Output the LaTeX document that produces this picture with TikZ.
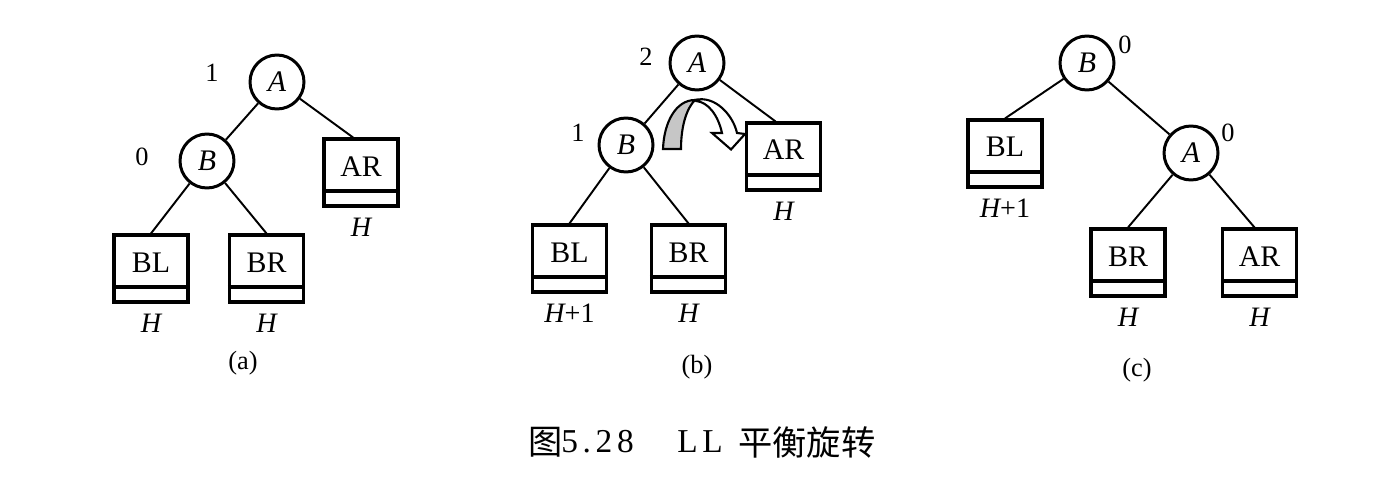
\documentclass[tikz,border=0pt]{standalone}
\usepackage{fontspec}
\setmainfont{Liberation Serif}
\newfontfamily\cjk{Noto Sans CJK SC}
\begin{document}
\begin{tikzpicture}[x=0.02cm,y=-0.02cm,
  every node/.style={inner sep=0pt},
  vtx/.style={circle, draw, line width=1.7pt, minimum size=1.08cm, font=\fontsize{17pt}{20pt}\selectfont\itshape},
  tbox/.style={rectangle, draw, line width=1.8pt, minimum width=1.48cm, text height=0.74cm, text depth=0.6cm, font=\fontsize{17pt}{20pt}\selectfont},
  sepline/.style={line width=2.3pt},
  edge/.style={line width=1.1pt},
  bfac/.style={font=\fontsize{15pt}{18pt}\selectfont},
  ht/.style={font=\fontsize{16pt}{19pt}\selectfont},
  sub/.style={font=\fontsize{15pt}{18pt}\selectfont},
  capl/.style={font=\fontsize{19pt}{22pt}\selectfont\addfontfeature{LetterSpace=14}, anchor=west},
  capc/.style={font=\fontsize{19.5pt}{22pt}\cjk, anchor=west},
  rot/.style={line width=1.2pt, line join=miter}
]
\useasboundingbox (0,0) rectangle (1388,483);

% ---------- (a) ----------
\node[vtx] (aA) at (277,82) {A};
\node[vtx] (aB) at (207,161) {B};
\node[tbox] (aAR) at (361,172.5) {AR};
\node[tbox] (aBL) at (151,268.5) {BL};
\node[tbox] (aBR) at (266.5,268.5) {BR};
\node[bfac] (a1) at (212,73) {1};
\node[bfac] (a0) at (142,157) {0};
\draw[edge] (aA) -- (aB);
\draw[edge] (aA) -- ([xshift=-0.16cm]aAR.north);
\draw[edge] (aB) -- (aBL.north);
\draw[edge] (aB) -- (aBR.north);
\node[ht] (aHAR) at ([yshift=-0.4cm]aAR.south) {\itshape H};
\node[ht] (aHBL) at ([yshift=-0.4cm]aBL.south) {\itshape H};
\node[ht] (aHBR) at ([yshift=-0.4cm]aBR.south) {\itshape H};
\node[sub] (alab) at (243,363) {(a)};

% ---------- (b) ----------
\node[vtx] (bA) at (697,63) {A};
\node[vtx] (bB) at (626,145) {B};
\node[tbox] (bAR) at (783.5,156.5) {AR};
\node[tbox] (bBL) at (569.5,258.5) {BL};
\node[tbox] (bBR) at (688.5,258.5) {BR};
\node[bfac] (b2) at (646,57) {2};
\node[bfac] (b1) at (578,133) {1};
\draw[edge] (bA) -- (bB);
\draw[edge] (bA) -- ([xshift=-0.16cm]bAR.north);
\draw[edge] (bB) -- (bBL.north);
\draw[edge] (bB) -- (bBR.north);
\node[ht] (bHAR) at ([yshift=-0.4cm]bAR.south) {\itshape H};
\node[ht] (bHBL) at ([yshift=-0.4cm]bBL.south) {{\itshape H}+1};
\node[ht] (bHBR) at ([yshift=-0.4cm]bBR.south) {\itshape H};
\node[sub] (blab) at (697,367) {(b)};
% rotation arrow
\filldraw[rot, fill=gray!45] (663,149) .. controls (664,122) and (676,100) .. (695,100)
   .. controls (687,108) and (681,125) .. (681,149) -- cycle;
\filldraw[rot, fill=white] (695,100) .. controls (715,95) and (733,115) .. (737,133)
   -- (745,134) -- (731,149.5) -- (712,133) -- (722,133)
   .. controls (718,115) and (708,102) .. (696,101) -- cycle;

% ---------- (c) ----------
\node[vtx] (cB) at (1087,63) {B};
\node[vtx] (cA) at (1191,153) {A};
\node[tbox] (cBL) at (1005,153.5) {BL};
\node[tbox] (cBR) at (1128,262.5) {BR};
\node[tbox] (cAR) at (1259.5,262.5) {AR};
\node[bfac] (c0a) at (1125,45) {0};
\node[bfac] (c0b) at (1228,133) {0};
\draw[edge] (cB) -- (cBL.north);
\draw[edge] (cB) -- (cA);
\draw[edge] (cA) -- (cBR.north);
\draw[edge] (cA) -- ([xshift=-0.1cm]cAR.north);
\node[ht] (cHBL) at ([yshift=-0.4cm]cBL.south) {{\itshape H}+1};
\node[ht] (cHBR) at ([yshift=-0.4cm]cBR.south) {\itshape H};
\node[ht] (cHAR) at ([yshift=-0.4cm]cAR.south) {\itshape H};
\node[sub] (clab) at (1137,370) {(c)};

% separators in the boxes
\foreach \n in {aAR,aBL,aBR,bAR,bBL,bBR,cBL,cBR,cAR}
  \draw[sepline] ([yshift=0.34cm]\n.south west) -- ([yshift=0.34cm]\n.south east);

% ---------- caption ----------
\node[capc] (cap1) at (528,442) {图};
\node[capl] (cap2) at (561,442) {5.28};
\node[capl] (cap3) at (677,442) {LL};
\node[capc] (cap4) at (738,442) {平衡旋转};
\end{tikzpicture}
\end{document}
